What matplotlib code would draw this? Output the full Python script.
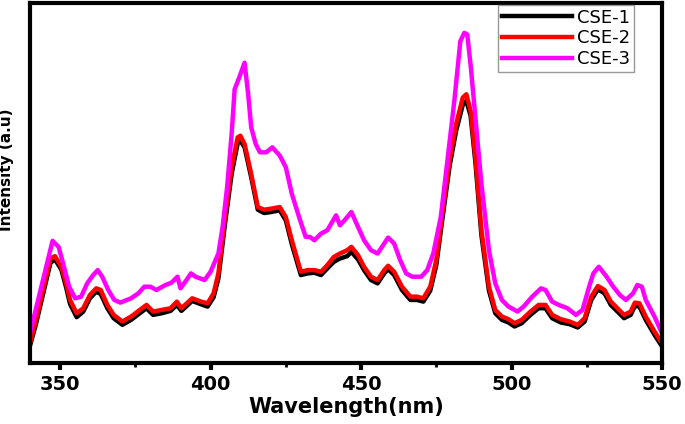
import matplotlib
matplotlib.use("Agg")
import matplotlib.pyplot as plt
from matplotlib.ticker import MultipleLocator

# emission spectra (arbitrary units)
wl_cse3 = [340, 347.5, 349.5, 351, 353, 355, 357, 359, 361, 362.5, 364, 366, 368, 370,
           373.6, 376, 378, 380, 382, 385, 387, 389, 390, 392, 393.5, 395, 398, 400,
           402.6, 404, 405.5, 407, 408, 409.5, 411.3, 412.5, 413.5, 415, 416.4, 418.5,
           420.5, 423, 425, 427, 429.4, 431.6, 433, 434.5, 436.7, 438.8, 441.7, 443,
           444.5, 446.8, 449, 451, 453.3, 455.5, 457.7, 459, 461, 463, 465, 467, 470,
           472, 474, 476.5, 478.7, 481, 483, 484.3, 485.3, 486.5, 488, 490, 492.5,
           494.6, 496.8, 499, 502, 504, 506.9, 509.8, 511.3, 513.5, 515.7, 518.6,
           521.4, 523.6, 525.8, 527.2, 529, 531.6, 533.8, 536, 538, 540.4, 541.8,
           543.3, 544.6, 547.5, 550]
cse3 = [90, 368, 350, 300, 230, 195, 200, 240, 265, 280, 260, 220, 190, 182,
        195, 210, 230, 230, 220, 235, 242, 260, 225, 250, 270, 260, 250, 275,
        330, 410, 530, 690, 825, 860, 905, 810, 710, 660, 635, 635,
        650, 625, 590, 510, 440, 380, 380, 370, 390, 400, 445, 415,
        430, 455, 410, 370, 340, 330, 360, 378, 360, 310, 270, 260, 260,
        280, 330, 440, 610, 790, 970, 995, 990, 890, 740, 540, 340,
        240, 190, 170, 155, 170, 200, 225, 220, 185, 175, 165,
        145, 160, 230, 270, 290, 260, 230, 205, 190, 210, 235,
        230, 190, 140, 90]

wl_cse2 = [340, 342, 344.6, 346.8, 348.3, 350.4, 352, 353.3, 355.5, 357.7, 359.9, 362,
           363.5, 365.7, 367.8, 370.7, 373.6, 376.5, 378.7, 380.9, 383.8, 386.7, 388.8,
           390.3, 393.9, 396.8, 399, 401, 402.6, 404.8, 407, 409, 409.9, 411.3, 413.5,
           415.7, 417.8, 420, 423, 425, 427, 430, 432.3, 434.5, 436.7, 438.8, 441, 443,
           445.4, 446.8, 449, 451, 453.3, 455.5, 457.7, 459, 461, 463.6, 466.4, 468.6,
           470.7, 473, 475, 477, 479.4, 481.6, 483.8, 485, 486.4, 488, 490, 492.5,
           494.6, 496.8, 499, 501, 503.4, 506.3, 509, 511.3, 513.5, 516.4, 519.3, 522,
           524.3, 526.5, 528.7, 530.9, 533, 535.2, 537.4, 539.6, 541, 542.5, 544.6,
           547.5, 550]
cse2 = [60, 130, 230, 315, 322, 290, 240, 190, 150, 165, 205, 225,
        220, 175, 145, 125, 140, 160, 175, 155, 160, 165, 185,
        165, 195, 185, 180, 210, 270, 440, 590, 680, 685, 660, 570,
        470, 462, 465, 470, 440, 370, 275, 280, 280, 275, 295, 320, 330,
        340, 350, 325, 290, 260, 250, 280, 293, 275, 230, 200, 200,
        195, 230, 310, 450, 610, 720, 800, 810, 760, 620, 400, 230,
        160, 140, 132, 120, 130, 155, 175, 175, 145, 132, 125, 115,
        135, 200, 232, 220, 185, 165, 145, 155, 182, 180, 140,
        95, 60]

wl_cse1 = wl_cse2
cse1 = [52, 118, 218, 302, 312, 282, 228, 178, 138, 155, 195, 215,
        208, 165, 135, 115, 130, 150, 165, 145, 150, 157, 175,
        157, 187, 177, 170, 198, 255, 420, 570, 662, 670, 650, 560,
        462, 452, 455, 460, 430, 358, 265, 270, 272, 265, 285, 305, 315,
        322, 335, 312, 280, 250, 240, 270, 283, 265, 220, 190, 190,
        185, 218, 295, 432, 592, 700, 778, 790, 745, 605, 385, 218,
        150, 130, 122, 110, 120, 145, 165, 165, 135, 122, 117, 107,
        125, 190, 222, 210, 175, 155, 135, 145, 172, 170, 130,
        85, 50]

labels = ["CSE-1", "CSE-2", "CSE-3"]
colors = ["black", "#ff0000", "#ff00ff"]

fig = plt.figure(figsize=(6.85, 4.24), dpi=100)
ax = fig.add_axes([0.0438, 0.1439, 0.9226, 0.849])

ax.plot(wl_cse1, cse1, color=colors[0], lw=3.2, label=labels[0])
ax.plot(wl_cse2, cse2, color=colors[1], lw=3.2, label=labels[1])
ax.plot(wl_cse3, cse3, color=colors[2], lw=3.2, label=labels[2])

ax.set_xlim(340, 550)
ax.set_ylim(0, 1085)
ax.xaxis.set_major_locator(MultipleLocator(50))
ax.xaxis.set_minor_locator(MultipleLocator(25))
ax.set_yticks([])

for s in ax.spines.values():
    s.set_linewidth(3)
ax.tick_params(axis="x", which="major", direction="out", length=5, width=3, pad=4)
ax.tick_params(axis="x", which="minor", direction="out", length=3, width=2)
for t in ax.get_xticklabels():
    t.set_fontweight("bold")
    t.set_fontsize(14)

ax.set_xlabel("Wavelength(nm)", fontsize=15, fontweight="bold", labelpad=2)
ax.set_ylabel("Intensity (a.u)", fontsize=11, fontweight="bold")
ax.yaxis.set_label_coords(-0.025, 0.536)

leg = ax.legend(loc="upper right", bbox_to_anchor=(0.956, 0.994), fontsize=13,
                frameon=True, fancybox=False, edgecolor="#808080",
                handlelength=3.9, handletextpad=0.3, labelspacing=0.15,
                borderpad=0.2, borderaxespad=0)
leg.get_frame().set_linewidth(1)

fig.savefig("out.png", dpi=100)
